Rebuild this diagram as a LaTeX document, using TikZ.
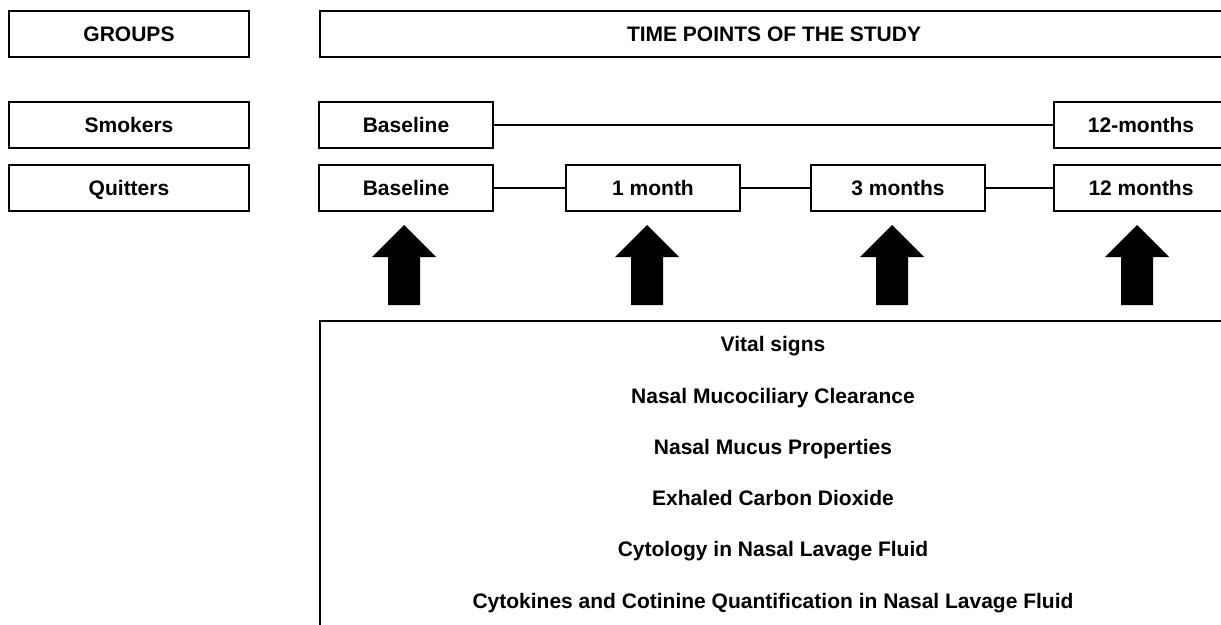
\documentclass[tikz,border=0pt]{standalone}
\usepackage{fontspec}
\setmainfont{Liberation Sans}
\begin{document}
\begin{tikzpicture}[x=1pt,y=-1pt,
  lbl/.style={font=\fontsize{21}{25}\selectfont\bfseries, text height=15pt, text depth=0pt, inner sep=0pt},
  box/.style={lbl, draw, line width=2.3pt, minimum height=46pt},
  gbox/.style={box, minimum width=240pt},
  tbox/.style={box, minimum width=174pt},
  link/.style={line width=1.3pt},
  uparrow/.pic={\fill (0,0) -- (32,32) -- (16,32) -- (16,80) -- (-16,80) -- (-16,32) -- (-32,32) -- cycle;}
]
\useasboundingbox (0,0) rectangle (1221,624);
\clip (0,0) rectangle (1221,624);
\fill[white] (0,0) rectangle (1221,624);

% header row
\node[gbox] (groups) at (129,34) {GROUPS};
\node[box, minimum width=908pt] (time) at (774,34) {TIME POINTS OF THE STUDY};

% group rows
\node[gbox] (smokers) at (129,125) {Smokers};
\node[gbox] (quitters) at (129,188) {Quitters};

% smokers time points
\node[tbox] (sb) at (406,125) {Baseline};
\node[tbox] (s12) at (1141,125) {12-months};
\draw[link] (sb.east) -- (s12.west);

% quitters time points
\node[tbox] (qb) at (406,188) {Baseline};
\node[tbox] (q1) at (653,188) {1 month};
\node[tbox] (q3) at (898,188) {3 months};
\node[tbox] (q12) at (1141,188) {12 months};
\draw[link] (qb.east) -- (q1.west);
\draw[link] (q1.east) -- (q3.west);
\draw[link] (q3.east) -- (q12.west);

% block arrows
\pic at (404,225) {uparrow};
\pic at (647,225) {uparrow};
\pic at (892,225) {uparrow};
\pic at (1137,225) {uparrow};

% measurements box
\node[draw, line width=2.3pt, minimum width=909pt, minimum height=340pt, inner sep=0pt, anchor=north west] (meas) at (319,320) {};
\node[lbl] (m1) at (773,344) {Vital signs};
\node[lbl] (m2) at (773,396) {Nasal Mucociliary Clearance};
\node[lbl] (m3) at (773,447) {Nasal Mucus Properties};
\node[lbl] (m4) at (773,498) {Exhaled Carbon Dioxide};
\node[lbl] (m5) at (773,549) {Cytology in Nasal Lavage Fluid};
\node[lbl] (m6) at (773,601) {Cytokines and Cotinine Quantification in Nasal Lavage Fluid};
\end{tikzpicture}
\end{document}
